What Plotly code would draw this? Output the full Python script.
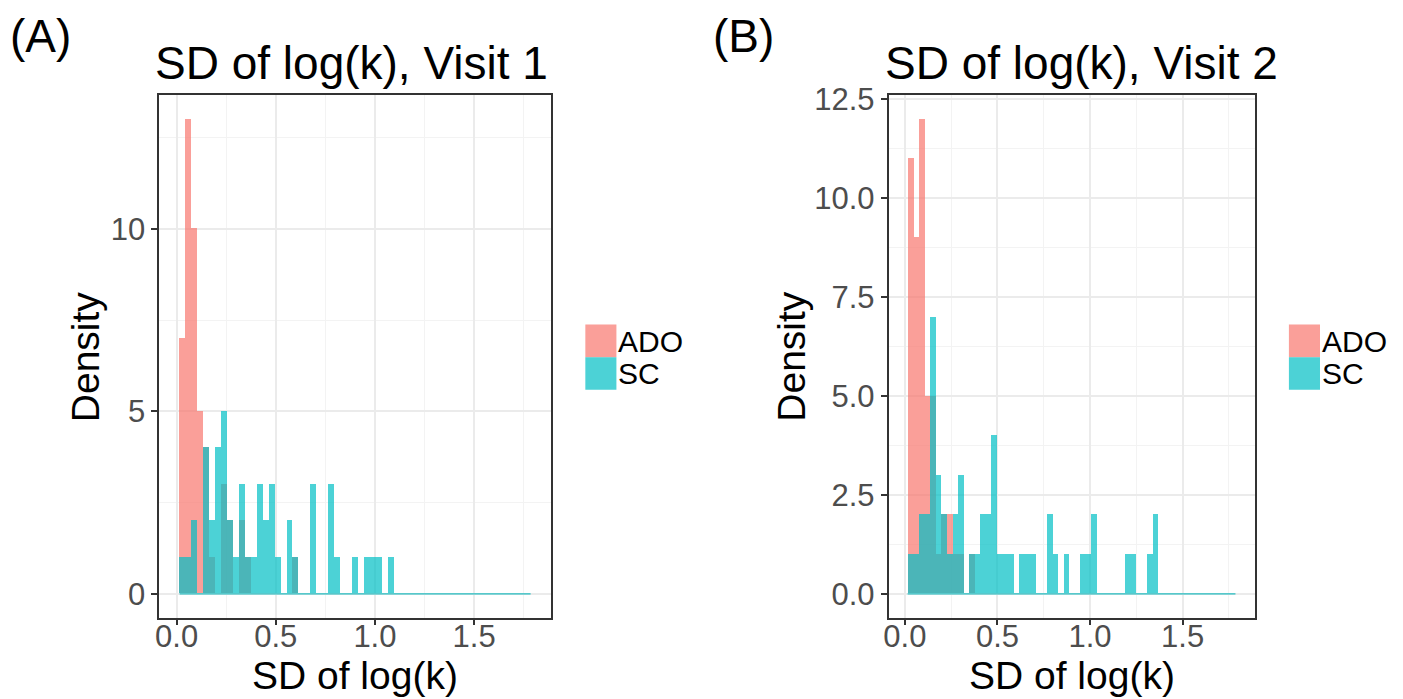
import plotly.graph_objects as go

# histogram bins (ggplot binwidth 0.03, centred on multiples of 0.03)
BIN_START = 0.015
BIN_WIDTH = 0.03

# counts per bin, Visit 1
ado_v1 = [7, 13, 10, 5, 4, 1, 0, 3, 2, 0, 2, 1, 0, 0, 0, 0, 0, 0, 0, 1,
          0, 0, 0, 0, 0, 0, 0, 0, 0, 0, 0, 0, 0, 0, 0, 0, 0, 0, 0, 0,
          0, 0, 0, 0, 0, 0, 0, 0, 0, 0, 0, 0, 0, 0, 0, 0, 0, 0, 0]
sc_v1 = [1, 1, 2, 0, 4, 2, 4, 5, 2, 1, 3, 1, 1, 3, 2, 3, 1, 0, 2, 1,
         0, 0, 3, 0, 0, 3, 1, 0, 0, 1, 0, 1, 1, 1, 0, 1, 0, 0, 0, 0,
         0, 0, 0, 0, 0, 0, 0, 0, 0, 0, 0, 0, 0, 0, 0, 0, 0, 0, 0]

# counts per bin, Visit 2
ado_v2 = [11, 9, 12, 5, 5, 1, 2, 2, 1, 1, 0, 1, 0, 0, 0, 0, 0, 0, 0, 0,
          0, 0, 0, 0, 0, 0, 0, 0, 0, 0, 0, 0, 0, 0, 0, 0, 0, 0, 0, 0,
          0, 0, 0, 0, 0, 0, 0, 0, 0, 0, 0, 0, 0, 0, 0, 0, 0, 0, 0]
sc_v2 = [1, 1, 2, 2, 7, 3, 2, 1, 2, 3, 0, 1, 1, 2, 2, 4, 1, 1, 1, 0,
         1, 1, 1, 0, 0, 2, 1, 0, 1, 0, 0, 1, 1, 2, 0, 0, 0, 0, 0, 1,
         1, 0, 0, 1, 2, 0, 0, 0, 0, 0, 0, 0, 0, 0, 0, 0, 0, 0, 0]

groups = ["ADO", "SC"]
x_ticks = [0, 0.5, 1.0, 1.5]
x_ticktext = ["0.0", "0.5", "1.0", "1.5"]
y1_ticks = [0, 5, 10]
y2_ticks = [0, 2.5, 5, 7.5, 10, 12.5]
y2_ticktext = ["0.0", "2.5", "5.0", "7.5", "10.0", "12.5"]

W, H = 1403, 699
FONT = "Liberation Sans, Arial, sans-serif"
FILL = {"ADO": "rgba(248,118,109,0.7)", "SC": "rgba(0,191,196,0.7)"}


def px(x):
    return x / W


def py(y):
    return 1 - y / H


n_bins = len(ado_v1)
mids = [BIN_START + BIN_WIDTH * (i + 0.5) for i in range(n_bins)]
edges = [BIN_START, BIN_START + BIN_WIDTH * n_bins]

fig = go.Figure()
panels = [("x", "y", ado_v1, sc_v1), ("x2", "y2", ado_v2, sc_v2)]
for xa, ya, ado, sc in panels:
    for g, counts in zip(groups, [ado, sc]):
        fig.add_trace(go.Bar(x=mids, y=counts, width=BIN_WIDTH, name=g,
                             marker=dict(color=FILL[g], line=dict(width=0)),
                             xaxis=xa, yaxis=ya, showlegend=False))
    # zero-height bins show up as a thin line in the original
    fig.add_trace(go.Scatter(x=edges, y=[0, 0], mode="lines",
                             line=dict(color="rgba(0,180,184,0.85)", width=1.2),
                             xaxis=xa, yaxis=ya, showlegend=False, hoverinfo="skip"))

ydom = [py(616.1), py(84)]
xdom_a = [px(154.7), px(548)]
xdom_b = [px(886.7), px(1254)]

common_axis = dict(showline=True, mirror=True, linecolor="#333333", linewidth=1.5,
                   ticks="outside", ticklen=6, tickwidth=1.5, tickcolor="#333333",
                   showgrid=True, gridcolor="#EBEBEB", gridwidth=1.5, zeroline=False,
                   tickfont=dict(family=FONT, size=31, color="#4D4D4D"))
x_minor = dict(tickvals=[0.25, 0.75, 1.25, 1.75], showgrid=True,
               gridcolor="#F3F3F3", gridwidth=1, ticks="")

fig.update_layout(
    width=W, height=H,
    margin=dict(l=0, r=0, t=0, b=0),
    paper_bgcolor="white", plot_bgcolor="white",
    barmode="overlay", bargap=0,
    showlegend=False,
    xaxis=dict(domain=xdom_a, range=[-0.088, 1.888], tickvals=x_ticks, ticktext=x_ticktext,
               minor=x_minor, ticklabelstandoff=-16, anchor="y", **common_axis),
    yaxis=dict(domain=ydom, range=[-0.65, 13.65], tickvals=y1_ticks, ticktext=["0", "5", "10"],
               minor=dict(tickvals=[2.5, 7.5, 12.5], showgrid=True,
                          gridcolor="#F3F3F3", gridwidth=1, ticks=""),
               anchor="x", **common_axis),
    xaxis2=dict(domain=xdom_b, range=[-0.088, 1.888], tickvals=x_ticks, ticktext=x_ticktext,
                minor=x_minor, ticklabelstandoff=-16, anchor="y2", **common_axis),
    yaxis2=dict(domain=ydom, range=[-0.6, 12.6], tickvals=y2_ticks, ticktext=y2_ticktext,
                minor=dict(tickvals=[1.25, 3.75, 6.25, 8.75, 11.25], showgrid=True,
                           gridcolor="#F3F3F3", gridwidth=1, ticks=""),
                anchor="x2", **common_axis),
)

# texts: panel tags, titles, axis titles, legend
texts = [
    ("(A)", 3, 23, "left", 46, 0),
    ("(B)", 709, 23, "left", 46, 0),
    ("SD of log(k), Visit 1", 149, 51, "left", 46, 0),
    ("SD of log(k), Visit 2", 881, 51, "left", 46, 0),
    ("SD of log(k)", (154.7 + 548) / 2, 675, "center", 39, 0),
    ("SD of log(k)", (886.7 + 1254) / 2, 675, "center", 39, 0),
    ("Density", 81, 350, "center", 39, -90),
    ("Density", 789, 350, "center", 39, -90),
]
for t, x, y, anchor, size, ang in texts:
    fig.add_annotation(text=t, x=px(x), y=py(y), xref="paper", yref="paper",
                       xanchor=anchor, yanchor="middle", showarrow=False, textangle=ang,
                       font=dict(family=FONT, size=size, color="black"))

for key_x in [582.4, 1288.5]:
    for i, g in enumerate(groups):
        y0 = 317.5 + i * 33.2
        fig.add_shape(type="rect", xref="paper", yref="paper",
                      x0=px(key_x), x1=px(key_x + 31.2), y0=py(y0 + 33.2), y1=py(y0),
                      fillcolor=FILL[g], line=dict(width=0))
        fig.add_annotation(text=g, x=px(key_x + 31), y=py(y0 + 17), xref="paper", yref="paper",
                           xanchor="left", yanchor="middle", showarrow=False,
                           font=dict(family=FONT, size=30, color="black"))

# the page has a default 8px body margin; drop it so the figure starts at the window corner
fig.write_html("out.html", post_script="document.body.style.margin='0';",
               config={"displayModeBar": False})
